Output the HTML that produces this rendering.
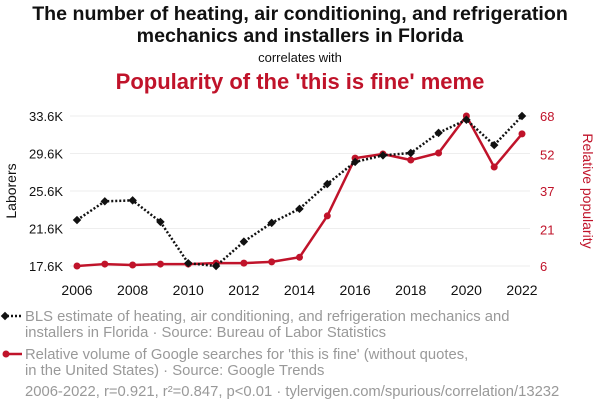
<!DOCTYPE html>
<html><head><meta charset="utf-8"><style>
body{margin:0;background:#fff;}
svg{display:block;font-family:"Liberation Sans",sans-serif;}
</style></head><body>
<svg id="chart" width="600" height="414">
<text x="300" y="20" text-anchor="middle" font-size="19.6" font-weight="bold" fill="#111">The number of heating, air conditioning, and refrigeration</text>
<text x="300" y="42" text-anchor="middle" font-size="19.6" font-weight="bold" fill="#111">mechanics and installers in Florida</text>
<text x="300" y="62" text-anchor="middle" font-size="13" fill="#111">correlates with</text>
<text x="300" y="89" text-anchor="middle" font-size="22" font-weight="bold" fill="#c0132a">Popularity of the 'this is fine' meme</text>
<g id="grid"></g><g id="axes"></g><g id="marks"></g>
<text transform="translate(16,191) rotate(-90)" text-anchor="middle" font-size="14" fill="#111">Laborers</text>
<text transform="translate(583,191) rotate(90)" text-anchor="middle" font-size="14" fill="#c0132a">Relative popularity</text>
<g>
<line x1="3" y1="316" x2="22" y2="316" stroke="#111" stroke-width="2.5" stroke-dasharray="2,2"/>
<rect x="2" y="313" width="6" height="6" transform="rotate(45 5 316)" fill="#111"/>
<text x="25" y="321" font-size="14.8" fill="#999">BLS estimate of heating, air conditioning, and refrigeration mechanics and</text>
<text x="25" y="337" font-size="14.8" fill="#999">installers in Florida · Source: Bureau of Labor Statistics</text>
</g>
<g>
<line x1="3" y1="354" x2="22" y2="354" stroke="#c0132a" stroke-width="2.5"/>
<circle cx="6" cy="354" r="3.5" fill="#c0132a"/>
<text x="25" y="359" font-size="14.8" fill="#999">Relative volume of Google searches for 'this is fine' (without quotes,</text>
<text x="25" y="375" font-size="14.8" fill="#999">in the United States) · Source: Google Trends</text>
</g>
<text x="25" y="396" font-size="14.8" fill="#999">2006-2022, r=0.921, r²=0.847, p&lt;0.01 · tylervigen.com/spurious/correlation/13232</text>
</svg>
<script>
const years=[2006,2007,2008,2009,2010,2011,2012,2013,2014,2015,2016,2017,2018,2019,2020,2021,2022];
const laborers=[22.5,24.5,24.6,22.3,17.9,17.6,20.2,22.2,23.7,26.35,28.7,29.4,29.65,31.8,33.2,30.5,33.6];
const meme=[6,6.8,6.4,6.8,6.8,7.2,7.2,7.7,9.6,26.7,50.6,52.3,49.8,52.7,68,46.9,60.6];
const leftTicks=[17.6,21.6,25.6,29.6,33.6];
const rightTicks=[6,21,37,52,68];
const xTicks=[2006,2008,2010,2012,2014,2016,2018,2020,2022];
const NS="http://www.w3.org/2000/svg";
const X=y=>77+(y-2006)*(522-77)/16;
const YL=v=>266-(v-17.6)*150/16;
const YR=v=>266-(v-6)*150/62;
function mk(tag,attrs,parent,txt){const e=document.createElementNS(NS,tag);for(const k in attrs)e.setAttribute(k,attrs[k]);if(txt!==undefined)e.textContent=txt;document.getElementById(parent).appendChild(e);return e;}
leftTicks.forEach(t=>{
 const g=mk('line',{x1:70,x2:530,y1:YL(t),y2:YL(t),stroke:'#eee','stroke-width':1},'grid');
 
 
 const l=mk('text',{x:63,y:YL(t)+5,'text-anchor':'end','font-size':13,fill:'#111'},'axes',t.toFixed(1)+'K');
 
 
});
rightTicks.forEach(t=>{
 const l=mk('text',{x:540,y:YR(t)+5,'text-anchor':'start','font-size':13,fill:'#c0132a'},'axes',t);
 
 
});
xTicks.forEach(t=>{
 const l=mk('text',{x:X(t),y:295,'text-anchor':'middle','font-size':14,fill:'#111'},'axes',t);
 
 
});
const rp=mk('polyline',{points:years.map((y,i)=>X(y)+','+YR(meme[i])).join(' '),fill:'none',stroke:'#c0132a','stroke-width':2.5},'marks');


years.forEach((y,i)=>{
 const c=mk('circle',{cx:X(y),cy:YR(meme[i]),r:3.5,fill:'#c0132a'},'marks');
 
 
});
const bp=mk('polyline',{points:years.map((y,i)=>X(y)+','+YL(laborers[i])).join(' '),fill:'none',stroke:'#111','stroke-width':2.5,'stroke-dasharray':'2,2'},'marks');


years.forEach((y,i)=>{
 const cx=X(y),cy=YL(laborers[i]);
 const r=mk('rect',{x:cx-3,y:cy-3,width:6,height:6,fill:'#111',transform:`rotate(45 ${cx} ${cy})`},'marks');
 
 
});
</script>
</body></html>
